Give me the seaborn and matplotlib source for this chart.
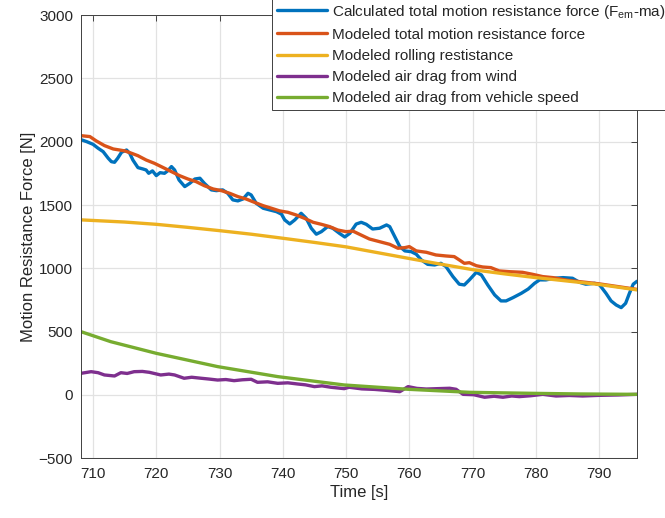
import numpy as np
import pandas as pd
import matplotlib
matplotlib.use("Agg")
import matplotlib.pyplot as plt
import seaborn as sns

# values

# calculated total force (F_em - ma)
t_calc = [708.2, 709.0, 710.0, 710.8, 711.6, 712.4, 712.9, 713.4, 713.9, 714.5,
          715.3, 715.8, 716.3, 717.1, 717.9, 718.4, 718.8, 719.4, 720.0, 720.6,
          721.3, 721.8, 722.4, 722.9, 723.6, 724.5, 725.3, 726.1, 726.9, 727.6,
          728.7, 729.5, 730.5, 731.3, 732.1, 732.9, 733.7, 734.5, 735.0, 735.8,
          736.9, 737.9, 739.0, 739.8, 740.3, 741.1, 741.9, 742.9, 743.7, 744.5,
          745.3, 746.1, 747.1, 747.9, 749.0, 749.8, 750.6, 751.6, 752.4, 753.2,
          754.2, 755.3, 756.4, 756.9, 757.7, 758.5, 759.3, 760.3, 761.1, 761.9,
          762.9, 764.0, 765.0, 765.8, 766.9, 767.9, 768.7, 769.5, 770.6, 771.4,
          772.4, 773.5, 774.5, 775.3, 776.4, 777.7, 778.8, 779.8, 780.6, 781.6,
          782.9, 784.3, 785.8, 786.9, 787.9, 789.3, 790.1, 791.1, 791.9, 792.7,
          793.5, 794.2, 794.8, 795.4, 796.0]
f_calc = [2015, 2001, 1980, 1949, 1922, 1870, 1843, 1838, 1870, 1917,
          1935, 1909, 1856, 1796, 1785, 1777, 1751, 1770, 1733, 1756,
          1751, 1770, 1804, 1777, 1698, 1646, 1672, 1706, 1712, 1672,
          1620, 1614, 1620, 1593, 1541, 1533, 1548, 1593, 1580, 1514,
          1475, 1462, 1448, 1428, 1383, 1351, 1383, 1435, 1396, 1317,
          1270, 1290, 1330, 1317, 1275, 1248, 1277, 1350, 1364, 1348,
          1311, 1317, 1343, 1330, 1251, 1172, 1138, 1132, 1112, 1067,
          1032, 1027, 1040, 1014, 935, 875, 869, 909, 969, 948,
          869, 790, 743, 743, 769, 803, 837, 882, 909, 909,
          922, 927, 922, 890, 875, 882, 869, 803, 743, 711,
          690, 724, 803, 875, 898]

# modeled total force
t_total = [708.15, 709.5, 710.5, 711.8, 713.2, 714.2, 715.0, 716.1, 717.1, 718.4,
           719.7, 721.1, 722.4, 723.7, 725.0, 726.3, 727.6, 729.0, 730.3, 731.6,
           732.9, 734.2, 735.5, 736.9, 738.2, 739.5, 740.8, 742.1, 743.4, 744.8,
           746.1, 747.4, 748.7, 750.0, 751.1, 752.1, 753.7, 755.3, 756.9, 758.2,
           759.3, 760.0, 761.1, 762.7, 764.2, 765.8, 767.1, 767.9, 768.7, 769.5,
           770.6, 771.6, 772.9, 774.2, 775.8, 777.9, 779.5, 781.1, 782.7, 785.0,
           787.5, 790.0, 793.0, 796.0]
f_total = [2048, 2041, 2007, 1970, 1943, 1935, 1928, 1909, 1890, 1856,
           1830, 1796, 1764, 1732, 1706, 1685, 1653, 1627, 1614, 1593,
           1567, 1548, 1522, 1495, 1475, 1454, 1443, 1422, 1396, 1364,
           1348, 1330, 1303, 1290, 1294, 1270, 1232, 1211, 1190, 1159,
           1164, 1172, 1138, 1127, 1106, 1098, 1093, 1067, 1040, 1045,
           1021, 1011, 1006, 980, 974, 969, 953, 935, 927, 906,
           892, 878, 856, 834]

# modeled rolling resistance
t_roll = [708.15, 715.0, 720.0, 725.0, 730.0, 735.0, 740.0, 745.0, 750.0, 755.0,
          760.0, 765.0, 770.0, 775.0, 780.0, 785.0, 790.0, 796.0]
f_roll = [1383, 1366, 1348, 1324, 1298, 1270, 1238, 1205, 1170, 1124,
          1078, 1033, 990, 957, 927, 900, 873, 830]

# modeled air drag from wind
t_wind = [708.1, 709.7, 710.8, 711.8, 713.4, 714.4, 715.4, 716.5, 717.8, 718.9,
          720.7, 722.0, 722.9, 724.4, 725.6, 727.1, 728.3, 729.7, 731.0, 732.3,
          733.6, 735.0, 736.0, 737.6, 739.2, 740.8, 742.3, 743.6, 745.0, 746.2,
          747.6, 749.7, 750.5, 752.5, 754.5, 756.5, 758.5, 759.8, 761.2, 762.7,
          764.5, 766.4, 767.4, 768.5, 770.2, 771.9, 773.4, 774.8, 776.2, 777.4,
          779.2, 781.1, 783.2, 785.3, 787.4, 790.0, 793.0, 796.0]
f_wind = [171, 184, 176, 158, 150, 176, 170, 184, 186, 179,
          158, 165, 158, 132, 140, 132, 126, 118, 122, 113,
          120, 124, 100, 104, 92, 96, 87, 80, 66, 72,
          61, 50, 61, 48, 44, 36, 26, 66, 52, 47,
          50, 53, 45, 5, 2, -18, -10, -18, -8, -13,
          -6, 5, -8, -4, -8, -3, 0, 5]

# modeled air drag from vehicle speed
t_speed = [708.1, 712.8, 720.0, 729.7, 739.2, 749.7, 759.8, 769.5, 779.5, 787.0, 796.0]
f_speed = [500, 421, 329, 224, 145, 79, 45, 21, 13, 8, 5]

labels = ["Calculated total motion resistance force (F$_{em}$-ma)",
          "Modeled total motion resistance force",
          "Modeled rolling restistance",
          "Modeled air drag from wind",
          "Modeled air drag from vehicle speed"]
colors = ["#0072BD", "#D95319", "#EDB120", "#7E2F8E", "#77AC30"]

sns.set_theme(style="white")
plt.rcParams["font.family"] = ["Liberation Sans", "DejaVu Sans"]
plt.rcParams["mathtext.default"] = "regular"

fig = plt.figure(figsize=(6.65, 5.18), dpi=100)
ax = fig.add_axes([0.1223, 0.1153, 0.8356, 0.8554])

series = [(t_calc, f_calc), (t_total, f_total), (t_roll, f_roll),
          (t_wind, f_wind), (t_speed, f_speed)]
for (tt, ff), lab, col in zip(series, labels, colors):
    sns.lineplot(x=tt, y=ff, ax=ax, color=col, linewidth=2.4, label=lab)

ax.set_xlim(708.15, 796.0)
ax.set_ylim(-500, 3000)
ax.set_xticks(np.arange(710, 791, 10))
ax.set_yticks(np.arange(-500, 3001, 500))
ax.grid(True, color="#e2e2e2", linewidth=0.9)
ax.set_axisbelow(True)
ax.tick_params(direction="in", length=4, width=0.7, color="#404040",
               top=True, right=True, labelsize=11, labelcolor="#262626", pad=6)
for s in ax.spines.values():
    s.set_color("#404040")
    s.set_linewidth(0.7)

ax.set_xlabel("Time [s]", fontsize=12, color="#262626", labelpad=3)
ax.set_ylabel("Motion Resistance Force [N]", fontsize=12, color="#262626", labelpad=2)

leg = ax.legend(loc="upper left", bbox_to_anchor=(272 / 665, 1.004),
                bbox_transform=fig.transFigure, fontsize=11, frameon=True,
                fancybox=False, framealpha=1, edgecolor="#404040",
                handlelength=3.3, handletextpad=0.33, labelspacing=0.47,
                borderpad=0.3, borderaxespad=0)
leg.get_frame().set_linewidth(0.7)
for line in leg.get_lines():
    line.set_linewidth(2.4)

fig.savefig("out.png", dpi=100)
